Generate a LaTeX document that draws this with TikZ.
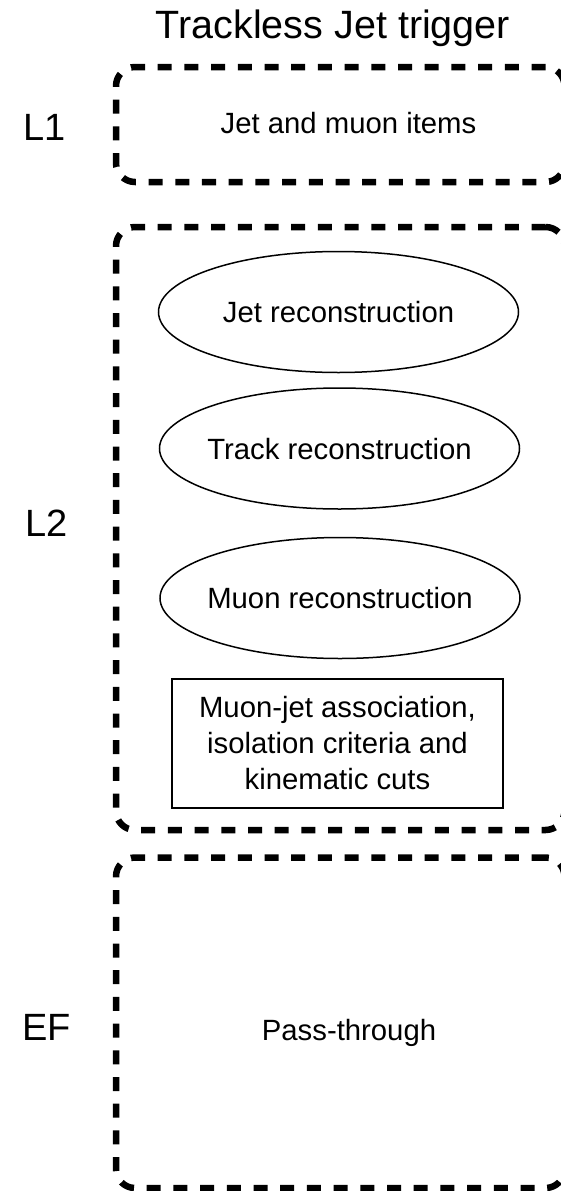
\documentclass[tikz,border=0pt]{standalone}
\usepackage{fontspec}
\setmainfont{Liberation Sans}
\usetikzlibrary{shapes.geometric}
\begin{document}
\begin{tikzpicture}[x=1pt,y=-1pt,
  stage/.style={draw, line width=6.5pt, dash pattern=on 14pt off 12.7pt, rounded corners=19pt, rectangle, minimum width=448.5pt, inner sep=0pt},
  big/.style={font=\fontsize{38}{44}\selectfont, inner sep=0pt, anchor=base},
  txt/.style={font=\fontsize{29.3}{36}\selectfont, inner sep=0pt},
  oval/.style={ellipse, draw, line width=1.5pt, minimum width=360pt, minimum height=121pt, txt, inner xsep=-60pt, text height=21pt, text depth=0pt},
  cutbox/.style={rectangle, draw, line width=2.3pt, minimum width=331pt, minimum height=129pt, txt, align=center}
]
\useasboundingbox (0,0) rectangle (561,1191);
% title
\node[big, font=\fontsize{39.5}{44}\selectfont] (title) at (333,38) {Trackless Jet trigger};
% stage boxes
\node[stage, minimum height=115pt] (l1box) at (340.25,124.5) {};
\node[stage, minimum height=603pt] (l2box) at (340.25,528.5) {};
\node[stage, minimum height=330.5pt] (efbox) at (340.25,1022.75) {};
% stage labels
\node[big] (l1) at (45,140) {L1};
\node[big] (l2) at (46.5,536) {L2};
\node[big] (ef) at (46.5,1040) {EF};
% L1 content
\node[txt, anchor=base] (jetmu) at (348.5,133.5) {Jet and muon items};
% L2 content
\node[oval] (jetreco) at (338.5,312) {Jet reconstruction};
\node[oval] (trackreco) at (339.5,448.5) {Track reconstruction};
\node[oval] (muonreco) at (340,598) {Muon reconstruction};
\node[cutbox] (cuts) at (337.5,743.5) {Muon-jet association,\\isolation criteria and\\kinematic cuts};
% EF content
\node[txt, anchor=base] (pass) at (349,1040) {Pass-through};
\end{tikzpicture}
\end{document}
